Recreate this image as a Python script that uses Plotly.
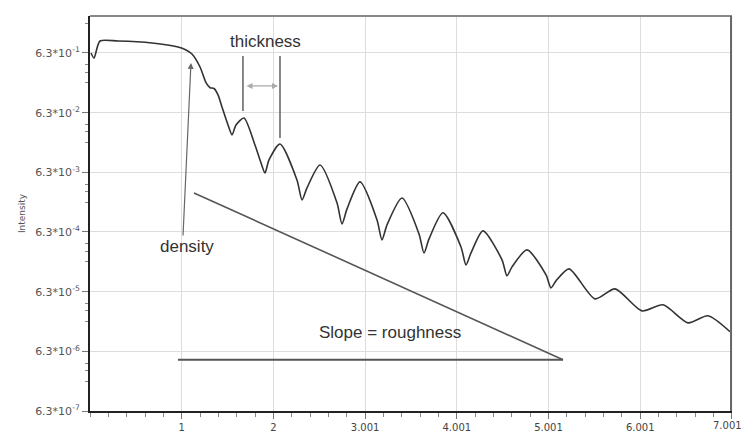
import plotly.graph_objects as go

# Reflectivity curve
q = [0.011, 0.044, 0.109, 0.305, 0.676, 0.960, 1.047, 1.112, 1.200, 1.265, 1.309, 1.352, 1.396,
     1.439, 1.505, 1.549, 1.592, 1.679, 1.799, 1.865, 1.908, 1.952, 2.072, 2.257, 2.312, 2.366,
     2.508, 2.694, 2.748, 2.803, 2.944, 3.130, 3.184, 3.239, 3.402, 3.588, 3.642, 3.697, 3.849,
     4.046, 4.100, 4.155, 4.286, 4.493, 4.547, 4.602, 4.766, 4.973, 5.027, 5.082, 5.224, 5.507,
     5.725, 6.020, 6.249, 6.522, 6.739, 6.979]
intensity = [0.63, 0.519, 1.00, 1.00, 0.926, 0.794, 0.707, 0.606, 0.367, 0.200, 0.165, 0.160, 0.125,
             0.0785, 0.0392, 0.0267, 0.0392, 0.0513, 0.0181, 0.00905, 0.00616, 0.01017, 0.0188, 0.0047, 0.00217, 0.00345,
             0.00838, 0.00193, 0.000862, 0.001536, 0.00435, 0.001005, 0.000465, 0.000829, 0.00234, 0.000585, 0.000281, 0.000482, 0.00132,
             0.000354, 0.000177, 0.000281, 0.000657, 0.000215, 0.000116, 0.000164, 0.000316, 0.000120, 7.30e-5, 9.56e-5, 1.52e-4, 4.77e-5,
             7.02e-5, 3.0e-5, 3.79e-5, 1.89e-5, 2.48e-5, 1.34e-5]

# Axis ticks
x_tickvals = [1, 2, 3, 4, 5, 6, 7]
x_ticktext = ["1", "2", "3.001", "4.001", "5.001", "6.001", ""]
x_last_label = "7.001"
y_exponents = [-7, -6, -5, -4, -3, -2, -1]
y_tickvals = [6.3 * 10 ** e for e in y_exponents]
y_ticktext = ["6.3*10<sup>%d</sup>" % e for e in y_exponents]
y_minor = [m * 10 ** e for e in range(-7, 1) for m in (2, 3, 4)]

# Annotation guide lines (data space)
thick_line1_x = [1.668, 1.668]
thick_line1_y = [0.561, 0.0673]
thick_line2_x = [2.072, 2.072]
thick_line2_y = [0.561, 0.02374]
slope_x = [1.134, 5.158]
slope_y = [2.846e-3, 4.54e-6]
base_x = [0.960, 5.158]
base_y = [4.54e-6, 4.54e-6]

GUIDE = "#555555"
fig = go.Figure()
fig.add_trace(go.Scatter(x=q, y=intensity, mode="lines",
                         line=dict(color="#333333", width=1.6, shape="spline", smoothing=0.7),
                         hoverinfo="skip"))
for xs, ys, c, w in [(thick_line1_x, thick_line1_y, GUIDE, 1.4),
                     (thick_line2_x, thick_line2_y, GUIDE, 1.4),
                     (slope_x, slope_y, GUIDE, 1.6),
                     (base_x, base_y, GUIDE, 2)]:
    fig.add_trace(go.Scatter(x=xs, y=ys, mode="lines", line=dict(color=c, width=w), hoverinfo="skip"))

txt_font = dict(family="Liberation Sans, Arial", size=17, color="#333333")
annotations = [
    dict(x=1.919, y=-0.0164, text="thickness", showarrow=False, font=txt_font),
    dict(x=1.058, y=-3.4503, text="density", showarrow=False, font=txt_font),
    dict(x=3.272, y=-4.8907, text="Slope = roughness", showarrow=False, font=txt_font),
    # density arrow
    dict(x=1.101, y=-0.3682, ax=-8, ay=174, text="", showarrow=True, arrowhead=2,
         arrowsize=1, arrowwidth=1.2, arrowcolor="#666666"),
    # thickness double arrow
    dict(x=2.050, y=-0.7535, ax=-33, ay=0, text="", showarrow=True, arrowhead=2,
         startarrowhead=2, arrowside="end+start", arrowsize=1, arrowwidth=1.2, arrowcolor="#aaaaaa"),
    # last x tick label kept inside the picture
    dict(xref="paper", yref="paper", x=1.0187, y=0, xanchor="right", yanchor="top", yshift=-7,
         text=x_last_label, showarrow=False,
         font=dict(family="DejaVu Sans", size=10, color="#444444")),
]

fig.update_layout(
    width=744, height=443,
    margin=dict(l=90, r=12, t=16, b=32, autoexpand=False),
    paper_bgcolor="white", plot_bgcolor="white",
    showlegend=False,
    annotations=annotations,
    shapes=[
        dict(type="line", xref="paper", yref="paper", x0=0, x1=1, y0=1, y1=1,
             line=dict(color="#888888", width=2)),
        dict(type="line", xref="paper", yref="paper", x0=0.9985, x1=0.9985, y0=0, y1=1,
             line=dict(color="#666666", width=2)),
    ],
    font=dict(family="DejaVu Sans, Liberation Sans", color="#444444"),
)
fig.update_xaxes(range=[0, 7.001], tickmode="array", tickvals=x_tickvals, ticktext=x_ticktext,
                 showgrid=True, gridcolor="#dddddd", gridwidth=1, zeroline=False,
                 showline=True, linecolor="#222222", linewidth=2, automargin=False,
                 ticklabeloverflow="allow",
                 ticks="outside", ticklen=6, tickcolor="#777777",
                 tickfont=dict(family="DejaVu Sans", size=10, color="#444444"),
                 minor=dict(dtick=0.2, tick0=0, ticks="outside", ticklen=4, tickcolor="#888888", showgrid=False))
fig.update_yaxes(type="log", range=[-6.2007, 0.4191], tickmode="array", tickvals=y_tickvals,
                 ticktext=y_ticktext, showgrid=True, gridcolor="#dddddd", gridwidth=1, zeroline=False,
                 showline=True, linecolor="#222222", linewidth=2, automargin=False,
                 ticks="outside", ticklen=6, tickcolor="#777777",
                 tickfont=dict(family="DejaVu Sans", size=11, color="#555555"),
                 minor=dict(tickmode="array", tickvals=y_minor, ticks="outside", ticklen=3,
                            tickcolor="#888888", showgrid=False),
                 title=dict(text="Intensity", font=dict(family="DejaVu Sans", size=9, color="#555555"), standoff=8))

fig.write_html("out.html", config={"displayModeBar": False},
               post_script="document.body.style.margin='0';document.body.style.overflow='hidden';")
